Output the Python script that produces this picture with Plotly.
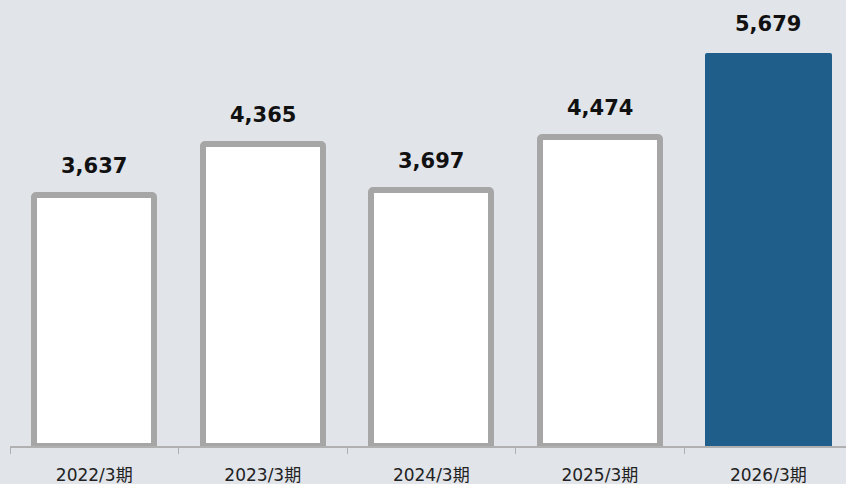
import plotly.graph_objects as go

categories = ["2022/3期", "2023/3期", "2024/3期", "2025/3期", "2026/3期"]
values = [3637, 4365, 3697, 4474, 5679]
labels = ["3,637", "4,365", "3,697", "4,474", "5,679"]

fill_colors = ["#ffffff", "#ffffff", "#ffffff", "#ffffff", "#1f5d8a"]
line_colors = ["#a6a6a6", "#a6a6a6", "#a6a6a6", "#a6a6a6", "#1f5d8a"]
line_widths = [6, 6, 6, 6, 0]
bar_widths = [0.712, 0.712, 0.712, 0.712, 0.754]

bg = "#e1e4e9"

fig = go.Figure(
    go.Bar(
        x=categories,
        y=values,
        width=bar_widths,
        marker=dict(
            color=fill_colors,
            line=dict(color=line_colors, width=line_widths),
            cornerradius=2,
        ),
        hoverinfo="skip",
    )
)

for c, v, t in zip(categories, values, labels):
    fig.add_annotation(
        x=c, y=v, text=f"<b>{t}</b>", showarrow=False,
        yanchor="bottom", yshift=15,
        font=dict(family="DejaVu Sans", size=21, color="#111111"),
    )

fig.update_layout(
    width=846, height=484,
    margin=dict(l=10, r=0, t=0, b=38),
    paper_bgcolor=bg, plot_bgcolor=bg,
    showlegend=False,
    bargap=0,
)
fig.update_xaxes(
    type="category",
    range=[-0.5, 4.461],
    tickson="boundaries",
    ticks="outside", ticklen=6, tickcolor="#b0b0b0", tickwidth=1,
    ticklabelstandoff=13,
    showline=True, linecolor="#b0b0b0", linewidth=2,
    showgrid=False,
    tickfont=dict(family="DejaVu Sans, Noto Sans CJK JP", size=17, color="#222222"),
)
fig.update_yaxes(
    range=[0, 6450], visible=False, showgrid=False, zeroline=False,
)

fig.write_html("out.html")
